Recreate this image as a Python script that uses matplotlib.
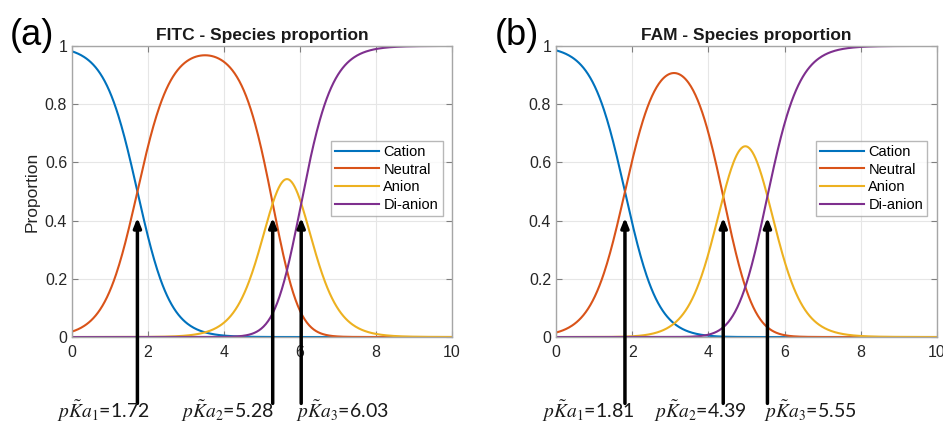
import numpy as np
import matplotlib.pyplot as plt

plt.rcParams['font.family'] = ['Liberation Sans', 'DejaVu Sans']
plt.rcParams['mathtext.fontset'] = 'stix'

# pKa values shown under each panel
fitc_pka = [1.72, 5.28, 6.03]
fam_pka = [1.81, 4.39, 5.55]
species = ['Cation', 'Neutral', 'Anion', 'Di-anion']
colors = ['#0072BD', '#D95319', '#EDB120', '#7E2F8E']

# label centres (pH units) for the pKa texts
fitc_lab_x = [0.82, 4.1, 7.1]
fam_lab_x = [0.84, 3.78, 6.67]

ph = np.linspace(0, 10, 501)


def fractions(pka):
    # speciation of a triprotic system, fully protonated = cation
    h = 10.0 ** (-ph)
    k1, k2, k3 = [10.0 ** (-p) for p in pka]
    terms = [h**3, h**2 * k1, h * k1 * k2, k1 * k2 * k3]
    tot = sum(terms)
    return [t / tot for t in terms]


fig = plt.figure(figsize=(9.43, 4.25), dpi=100)
ax_a = fig.add_axes([0.0764, 0.207, 0.403, 0.685])
ax_b = fig.add_axes([0.5896, 0.207, 0.404, 0.685])

panels = [(ax_a, fitc_pka, fitc_lab_x, 'FITC - Species proportion', '(a)', 0.010),
          (ax_b, fam_pka, fam_lab_x, 'FAM - Species proportion', '(b)', 0.525)]

for ax, pka, labx, title, tag, tagx in panels:
    for frac, name, c in zip(fractions(pka), species, colors):
        ax.plot(ph, frac, color=c, lw=1.5, label=name)
    ax.set_xlim(0, 10)
    ax.set_ylim(0, 1)
    ax.set_xticks([0, 2, 4, 6, 8, 10])
    ax.set_yticks([0, 0.2, 0.4, 0.6, 0.8, 1])
    ax.set_yticklabels(['0', '0.2', '0.4', '0.6', '0.8', '1'])
    ax.grid(True, color='#e6e6e6', lw=0.8)
    ax.set_axisbelow(True)
    ax.tick_params(direction='in', length=4, color='#7f7f7f', labelsize=11.5,
                   labelcolor='#262626', top=True, right=True,
                   labeltop=False, labelright=False)
    ax.tick_params(axis='x', pad=6)
    for s in ax.spines.values():
        s.set_color('#a6a6a6')
        s.set_linewidth(1.0)
    ax.set_title(title, fontsize=12.5, fontweight='bold', pad=4, color='#1a1a1a')
    leg = ax.legend(loc='center right', bbox_to_anchor=(0.975, 0.545),
                    fontsize=10.5, frameon=True, fancybox=False,
                    handlelength=3.0, handletextpad=0.3, borderpad=0.3,
                    labelspacing=0.25, borderaxespad=0.0)
    leg.get_frame().set_edgecolor('#a6a6a6')
    leg.get_frame().set_linewidth(1.0)
    for p, lx, i in zip(pka, labx, range(3)):
        ax.annotate('', xy=(p, 0.41), xytext=(p, -0.228),
                    arrowprops=dict(arrowstyle='-|>,head_width=0.22,head_length=0.55',
                                    color='black', lw=2.5, shrinkA=0, shrinkB=0),
                    annotation_clip=False)
        ax.text(lx, -0.255, r'$p\tilde{K}a_{%d}$' % (i + 1) + '=%.2f' % p,
                ha='center', va='center', fontsize=14, color='#1a1a1a',
                family=['Lato', 'DejaVu Sans'])
    fig.text(tagx, 0.895, tag, fontsize=26, color='black', va='baseline')

ax_a.set_ylabel('Proportion', fontsize=12.5, color='#262626', labelpad=4)

fig.savefig('out.png', dpi=100)
